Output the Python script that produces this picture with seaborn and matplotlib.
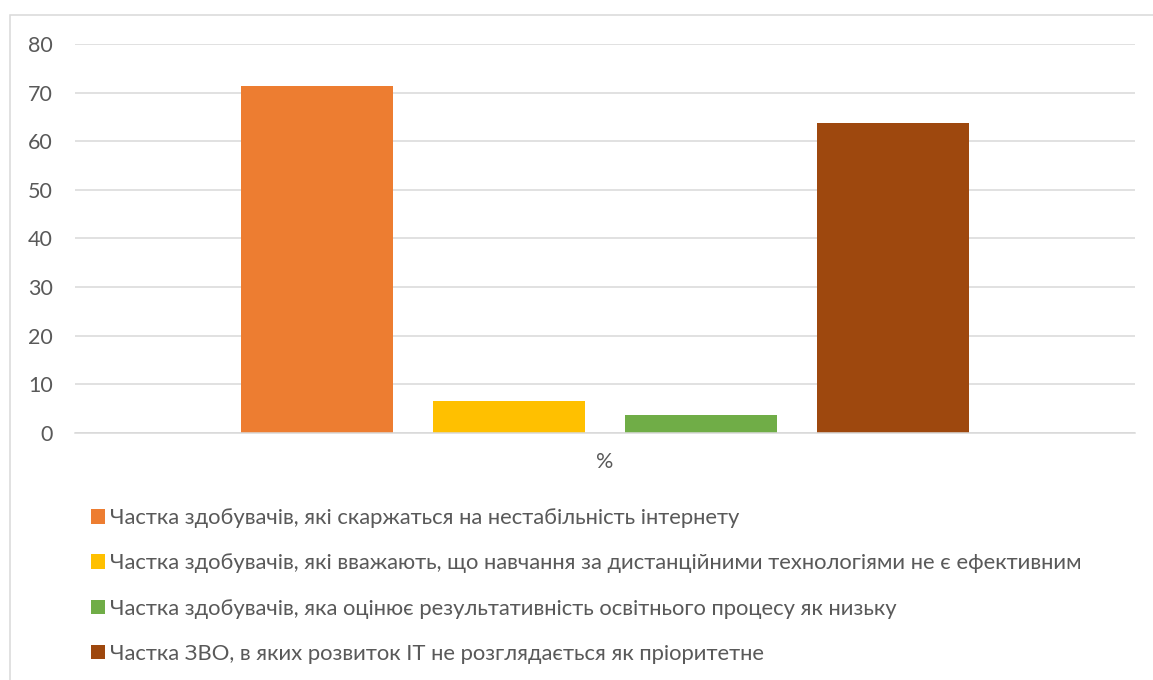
import matplotlib
matplotlib.use("Agg")
import matplotlib.pyplot as plt
import seaborn as sns
import pandas as pd
from matplotlib.patches import Rectangle

categories = [
    "Частка здобувачів, які скаржаться на нестабільність інтернету",
    "Частка здобувачів, які вважають, що навчання за дистанційними технологіями не є ефективним",
    "Частка здобувачів, яка оцінює результативність освітнього процесу як низьку",
    "Частка ЗВО, в яких розвиток ІТ не розглядається як пріоритетне",
]
values = [71.4, 6.5, 3.6, 63.8]
group_label = ["%"]
colors = ["#ED7D31", "#FFC000", "#70AD47", "#9E480E"]
yticks = [0, 10, 20, 30, 40, 50, 60, 70, 80]

df = pd.DataFrame({"group": group_label * len(categories), "cat": categories, "value": values})

sns.set_theme(style="white")
plt.rcParams["font.family"] = ["Lato", "DejaVu Sans"]

W, H = 1153, 680
fig = plt.figure(figsize=(W / 100, H / 100), dpi=100)
ax = fig.add_axes([75 / W, 1 - 433 / H, (1135 - 75) / W, (433 - 44) / H])

sns.barplot(data=df, x="group", y="value", hue="cat", hue_order=categories,
            palette=colors, width=0.7245, gap=0.208, ax=ax, saturation=1,
            edgecolor="none", linewidth=0)

ax.set_ylim(0, 80)
ax.set_xlim(-0.5, 0.5)
ax.set_yticks(yticks)
ax.set_yticklabels([str(t) for t in yticks])
ax.yaxis.grid(True, color="#d9d9d9", linewidth=1.1)
ax.set_axisbelow(True)
for s in ["top", "right", "left"]:
    ax.spines[s].set_visible(False)
ax.spines["bottom"].set_color("#d9d9d9")
ax.spines["bottom"].set_linewidth(1.1)
ax.tick_params(axis="y", length=0, pad=16, labelsize=15.5, labelcolor="#595959")
ax.tick_params(axis="x", length=0, pad=14, labelsize=15.5, labelcolor="#595959")
ax.set_xlabel("")
ax.set_ylabel("")

handles, labels = ax.get_legend_handles_labels()
if ax.get_legend() is not None:
    ax.get_legend().remove()
fs = 15.85
fs_px = fs / 0.72
leg = fig.legend(handles, labels, loc="upper left",
                 bbox_to_anchor=(91 / W, 1 - 508 / H), frameon=False,
                 borderpad=0, borderaxespad=0,
                 fontsize=fs, labelcolor="#595959",
                 handlelength=14 / fs_px, handleheight=14 / fs_px,
                 handletextpad=5 / fs_px, labelspacing=1.15)

fig.patches.append(Rectangle((10 / W, -0.1), 1.2, (1 - 15 / H) + 0.1,
                             transform=fig.transFigure, fill=False,
                             edgecolor="#d9d9d9", linewidth=1.1))

fig.savefig("out.png", dpi=100)
